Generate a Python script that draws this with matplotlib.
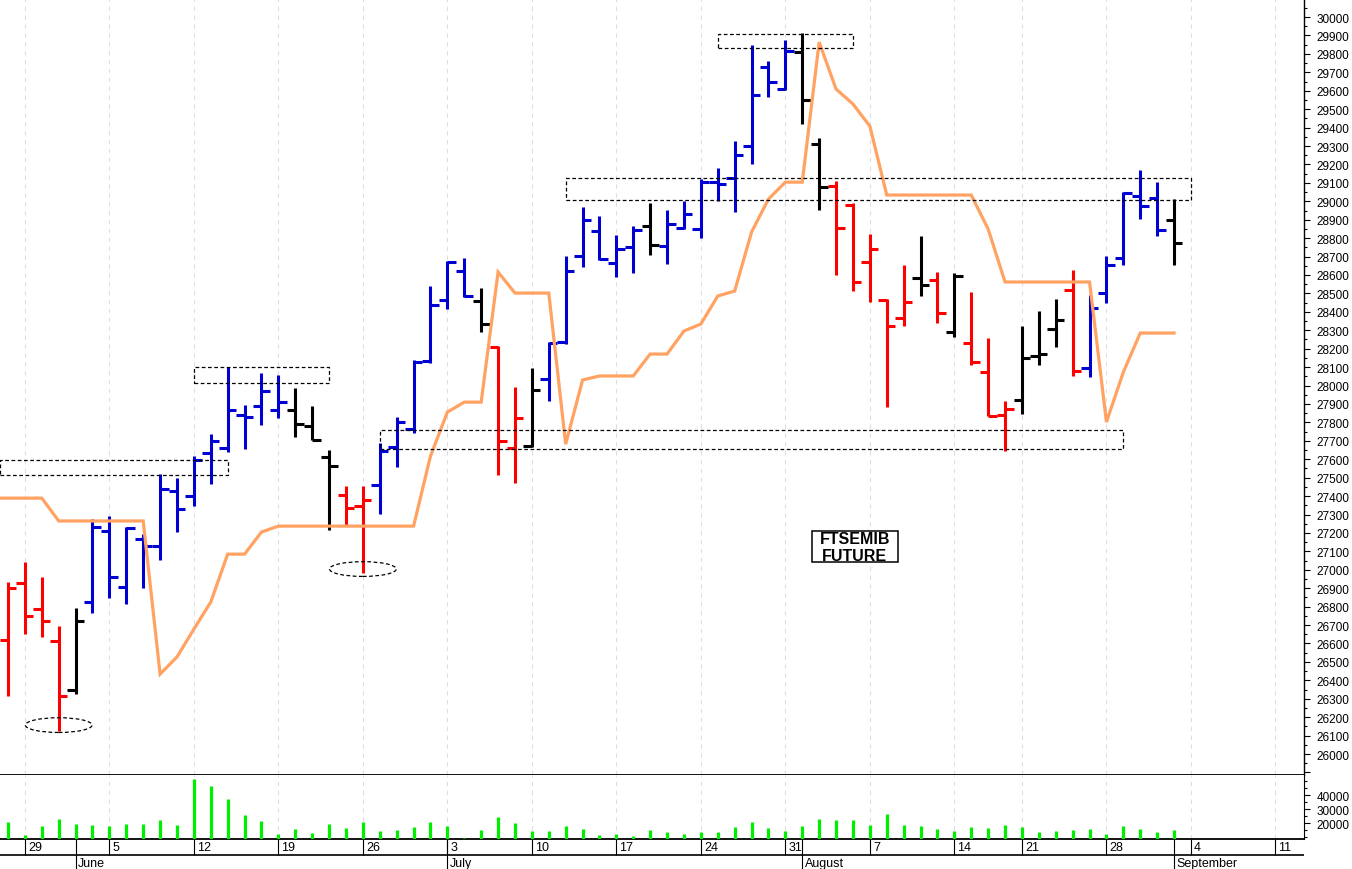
import numpy as np
import pandas as pd
from matplotlib import pyplot as plt
from matplotlib.patches import Rectangle, Ellipse
from matplotlib.ticker import FixedLocator, MultipleLocator, FuncFormatter

plt.rcParams['font.family'] = ['Liberation Sans', 'DejaVu Sans']

# trading days (Borsa Italiana closed on Aug 15)
cal = pd.bdate_range('2023-05-25', '2023-09-15')
cal = cal[cal != pd.Timestamp('2023-08-15')]
days = cal[(cal >= '2023-05-26') & (cal <= '2023-09-01')]

opens = [26619, 26928, 26787, 26613, 26347, 26825, 27210, 26906, 27167, 27129,
         27427, 27400, 27634, 27661, 27840, 27889, 27867, 27867, 27780, 27612,
         27406, 27346, 27460, 27666, 27764, 28133, 28464, 28621, 28459, 28209,
         27661, 27672, 28035, 28236, 28703, 28838, 28665, 28752, 28866, 28757,
         28855, 28849, 29104, 29126, 29300, 29729, 29609, 29810, 29311, 29083,
         28980, 28670, 28464, 28366, 28583, 28573, 28290, 28231, 28073, 27840,
         27921, 28160, 28307, 28518, 28095, 28502, 28692, 29028, 29018, 28898]
highs = [26934, 27042, 26961, 26695, 26792, 27275, 27292, 27232, 27194, 27520,
         27498, 27617, 27737, 28100, 27894, 28068, 28057, 27986, 27889, 27650,
         27455, 27455, 27688, 27829, 28138, 28540, 28676, 28692, 28529, 28215,
         27992, 28095, 28236, 28703, 28969, 28920, 28817, 28866, 28990, 28952,
         29001, 29121, 29180, 29327, 29848, 29761, 29875, 29913, 29343, 29110,
         28990, 28822, 28470, 28654, 28811, 28616, 28611, 28507, 28258, 27916,
         28323, 28404, 28469, 28627, 28491, 28703, 29050, 29170, 29104, 29012]
lows = [26315, 26651, 26635, 26125, 26326, 26765, 26847, 26814, 26901, 27053,
        27205, 27346, 27465, 27639, 27655, 27786, 27824, 27720, 27704, 27216,
        27243, 26982, 27303, 27558, 27742, 28120, 28415, 28480, 28290, 27514,
        27471, 27666, 27916, 28225, 28643, 28681, 28589, 28611, 28708, 28659,
        28849, 28800, 29001, 28942, 29202, 29566, 29604, 29419, 28952, 28600,
        28513, 28453, 27883, 28323, 28486, 28339, 28263, 28111, 27834, 27645,
        27845, 28111, 28209, 28052, 28046, 28448, 28654, 28904, 28811, 28654]
closes = [26901, 26749, 26722, 26315, 26722, 27232, 26961, 27227, 27129, 27438,
          27330, 27596, 27699, 27867, 27829, 27970, 27910, 27791, 27704, 27563,
          27335, 27379, 27645, 27802, 28128, 28437, 28670, 28486, 28334, 27699,
          27824, 27976, 28231, 28621, 28898, 28686, 28741, 28844, 28763, 28877,
          28931, 29104, 29094, 29251, 29577, 29647, 29815, 29550, 29077, 28855,
          28562, 28741, 28323, 28453, 28545, 28394, 28594, 28128, 27834, 27872,
          28149, 28171, 28355, 28079, 28421, 28654, 29045, 28974, 28844, 28773]
bar_colors = "rrrrkbbbbbbbbbbbbkkkrrbbbbbbkrrkbbbbbbkbbbbbbbbkkrrrrrkrkrrrkkkrbbbbbk"

# orange line, first value is the day before the first visible bar
orange = [27389, 27389, 27389, 27389, 27265, 27265, 27265, 27265, 27265, 27265,
          26434, 26527, 26678, 26825, 27085, 27085, 27205, 27237, 27237, 27237,
          27237, 27237, 27237, 27237, 27237, 27237, 27617, 27856, 27910, 27910,
          28616, 28502, 28502, 28502, 27682, 28030, 28052, 28052, 28052, 28171,
          28171, 28296, 28334, 28486, 28513, 28833, 29012, 29104, 29104, 29864,
          29609, 29528, 29408, 29034, 29034, 29034, 29034, 29034, 29034, 28849,
          28562, 28562, 28562, 28562, 28562, 28562, 27802, 28073, 28285, 28285,
          28285]

volume = [21280, 12000, 18000, 23200, 19640, 18930, 18000, 19860, 19860, 22500,
          18930, 51770, 46990, 37490, 26060, 21780, 12500, 15860, 13210, 19640,
          16570, 21280, 14640, 15140, 17280, 21280, 18000, 9640, 15140, 24640,
          20350, 14860, 14430, 18210, 15860, 11790, 12500, 11290, 15360, 13930,
          12290, 13930, 13930, 17280, 21070, 16570, 14430, 18000, 23210, 22500,
          22710, 18930, 26780, 18930, 18000, 16070, 14430, 17280, 16570, 18930,
          17280, 13710, 14430, 15360, 15860, 12290, 18000, 15860, 13710, 15360]

# dashed zones: (first bar, last bar, low, high)
zones = [(-0.5, 13, 27514, 27596), (11, 19, 28014, 28100), (22, 66, 27655, 27758),
         (33, 70, 29007, 29126), (42, 50, 29832, 29908)]
# dashed ellipses round the lows: (bar, price)
circles = [(3, 26157), (21, 27004)]

cmap = {'r': '#ff0000', 'b': '#0000d0', 'k': '#000000'}
x = np.arange(len(days))
cols = [cmap[c] for c in bar_colors]

fig = plt.figure(figsize=(13.52, 8.70), dpi=100)
ax = fig.add_axes([0, 0.108, 0.9645, 0.892])
axv = fig.add_axes([0, 0.0345, 0.9645, 0.0736], sharex=ax)
axd = fig.add_axes([0, 0, 0.9645, 0.0345], sharex=ax)

xmin, xmax = -0.473, 76.69
ax.set_xlim(xmin, xmax)
ax.set_ylim(25886, 30098)

pos = {d: i - 1 for i, d in enumerate(cal)}
weeks = [pos[d] for d in cal if d.weekday() == 0 and d >= pd.Timestamp('2023-05-29')]
weeks = [w for w in weeks if w <= 76]

grid_kw = dict(color='#dedede', lw=0.8, ls=(0, (4, 4)), zorder=0)
for w in weeks:
    ax.axvline(w, **grid_kw)
    axv.axvline(w, **grid_kw)

# OHLC bars
lw = 2.2
ax.vlines(x, lows, highs, colors=cols, lw=lw, zorder=3)
ax.hlines(opens, x - 0.5, x, colors=cols, lw=lw, zorder=3)
ax.hlines(closes, x, x + 0.5, colors=cols, lw=lw, zorder=3)

ax.plot(np.arange(-1, len(days)), orange, color='#ffa262', lw=2.3, zorder=4,
        solid_joinstyle='miter')

for a, b, lo, hi in zones:
    ax.add_patch(Rectangle((a, lo), b - a, hi - lo, fill=False, ec='black',
                           lw=0.9, ls=(0, (3, 2)), zorder=5))
for i, p in circles:
    ax.add_patch(Ellipse((i, p), 3.95, 80, fill=False, ec='black',
                         lw=0.9, ls=(0, (3, 2)), zorder=5))

# label box
ax.add_patch(Rectangle((47.57, 27042), 5.09, 168, fc='white', ec='black',
                       lw=1.1, zorder=6))
ax.text(50.1, 27124, 'FTSEMIB\nFUTURE', ha='center', va='center',
        fontsize=11.5, fontweight='bold', linespacing=1.12, zorder=7)

for s in ['top', 'left']:
    ax.spines[s].set_visible(False)
ax.spines['right'].set_linewidth(1)
ax.spines['bottom'].set_linewidth(1.3)
ax.spines['bottom'].set_color('black')
ax.yaxis.tick_right()
ax.yaxis.set_major_locator(MultipleLocator(100))
ax.yaxis.set_minor_locator(MultipleLocator(50))
ax.yaxis.set_major_formatter(FuncFormatter(lambda v, p: '%d' % v if v >= 26000 and v <= 30000 else ''))
ax.tick_params(axis='y', which='major', direction='out', length=4.5, width=0.8,
               labelsize=8.5, pad=4.5)
ax.tick_params(axis='y', which='minor', direction='out', length=2.2, width=0.8)
ax.tick_params(axis='x', bottom=False, labelbottom=False)

# volume panel
axv.vlines(x, 8929, volume, color='#00ee00', lw=2.3, zorder=3)
axv.set_ylim(8929, 54643)
for s in ['top', 'left']:
    axv.spines[s].set_visible(False)
axv.spines['bottom'].set_linewidth(1.3)
axv.yaxis.tick_right()
axv.yaxis.set_major_locator(FixedLocator([20000, 30000, 40000]))
axv.yaxis.set_minor_locator(MultipleLocator(5000))
axv.yaxis.set_major_formatter(FuncFormatter(lambda v, p: '%d' % v))
axv.tick_params(axis='y', which='major', direction='out', length=4.5, width=0.8,
                labelsize=8.5, pad=4.5)
axv.tick_params(axis='y', which='minor', direction='out', length=2.2, width=0.8)
axv.tick_params(axis='x', bottom=False, labelbottom=False)

# date strip
axd.set_ylim(0, 1)
axd.axis('off')
axd.axhline(0.467, color='black', lw=1.2)
for d in cal:
    i = pos[d]
    if i < 0 or i > 76:
        continue
    if d.weekday() == 0:
        axd.vlines(i, 0.467, 1, color='black', lw=0.8)
        axd.text(i + 0.18, 0.72, str(d.day), ha='left', va='center', fontsize=9)
months = {}
for d in cal:
    if pos[d] >= 0 and (d.year, d.month) not in months:
        months[(d.year, d.month)] = (pos[d], d.strftime('%B'))
for (yy, mm), (i, name) in months.items():
    if mm == 5:
        continue
    axd.vlines(i, 0, 1, color='black', lw=0.8)
    axd.text(i + 0.15, 0.2, name, ha='left', va='center', fontsize=9)

fig.savefig('out.png', dpi=100)
